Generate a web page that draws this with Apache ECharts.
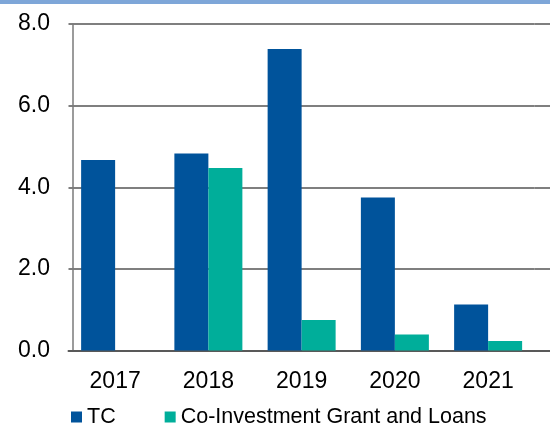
<!DOCTYPE html>
<html>
<head>
<meta charset="utf-8">
<script src="https://cdn.jsdelivr.net/npm/echarts@6/dist/echarts.min.js"></script>
<style>html,body{margin:0;padding:0;background:#fff;}#c{width:550px;height:423px;}</style>
</head>
<body>
<div id="c"></div>
<script>
const categories = ['2017', '2018', '2019', '2020', '2021'];
const tcValues = [4.67, 4.83, 7.39, 3.75, 1.13];
const coInvestValues = [0, 4.47, 0.75, 0.39, 0.23];
const yTicks = [0, 2, 4, 6, 8];

const fontFam = 'Liberation Sans, Arial';
const chart = echarts.init(document.getElementById('c'), null, {renderer: 'canvas'});
chart.setOption({
  animation: false,
  backgroundColor: '#fff',
  graphic: [{type: 'rect', left: 0, top: 0, shape: {width: 550, height: 4}, style: {fill: '#7EA6D8'}}],
  grid: [
    {left: 68.5, right: 15.25, top: 24, bottom: 72.5, containLabel: false},
    {left: 534.75, right: -2, top: 24, bottom: 72.5, containLabel: false}
  ],
  legend: {
    left: 66, top: 401, itemWidth: 11, itemHeight: 11, itemGap: 49,
    icon: 'rect',
    textStyle: {fontFamily: fontFam, fontSize: 21.5, color: '#000'},
    data: ['TC', 'Co-Investment Grant and Loans']
  },
  xAxis: [{
    type: 'category', data: categories, gridIndex: 0,
    axisLine: {lineStyle: {color: '#595959', width: 2}},
    axisTick: {show: false},
    axisLabel: {fontFamily: fontFam, fontSize: 23, color: '#000', margin: 20}
  }, {
    type: 'category', data: [''], gridIndex: 1,
    axisLine: {lineStyle: {color: '#595959', width: 2}},
    axisTick: {show: false}, axisLabel: {show: false}
  }],
  yAxis: [{
    type: 'value', min: yTicks[0], max: yTicks[yTicks.length - 1], interval: 2, gridIndex: 0,
    offset: -4.5,
    axisLine: {show: true, lineStyle: {color: '#7a7a7a', width: 1.5}},
    axisTick: {show: false},
    splitLine: {lineStyle: {color: '#7f7f7f', width: 2}},
    axisLabel: {fontFamily: fontFam, fontSize: 23, color: '#000', margin: 23,
      formatter: v => v.toFixed(1)}
  }, {
    type: 'value', min: yTicks[0], max: yTicks[yTicks.length - 1], interval: 2, gridIndex: 1,
    axisLine: {show: false}, axisTick: {show: false}, axisLabel: {show: false},
    splitLine: {lineStyle: {color: '#7f7f7f', width: 2}}
  }],
  series: [
    {name: 'TC', type: 'bar', data: tcValues, barWidth: 34, barGap: '0%',
      itemStyle: {color: '#00539B'}},
    {name: 'Co-Investment Grant and Loans', type: 'bar', data: coInvestValues, barWidth: 34,
      itemStyle: {color: '#00AE9A'}}
  ]
});
</script>
</body>
</html>
